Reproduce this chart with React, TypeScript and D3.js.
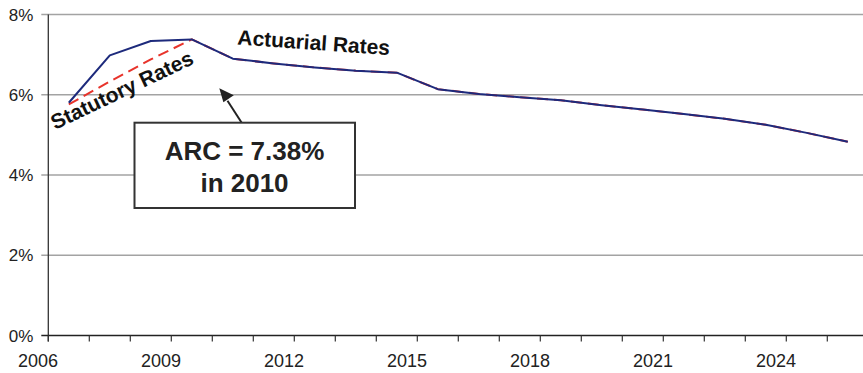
import React from "react";
import * as d3 from "d3";

// ---- data ----
const periods = [2006.75, 2007.75, 2008.75, 2009.75, 2010.75, 2011.75, 2012.75, 2013.75, 2014.75, 2015.75, 2016.75, 2017.75, 2018.75, 2019.75, 2020.75, 2021.75, 2022.75, 2023.75, 2024.75, 2025.75];
const actuarial = [5.80, 6.98, 7.34, 7.38, 6.90, 6.78, 6.68, 6.60, 6.55, 6.14, 6.02, 5.94, 5.86, 5.74, 5.63, 5.52, 5.40, 5.25, 5.05, 4.83];
const statutory = [5.76, 6.33, 6.88, 7.38, 6.90, 6.78, 6.68, 6.60, 6.55, 6.14, 6.02, 5.94, 5.86, 5.74, 5.63, 5.52, 5.40, 5.25, 5.05, 4.83];
const yTicks = [0, 2, 4, 6, 8];
const xLabels = [2006, 2009, 2012, 2015, 2018, 2021, 2024];
const xTickMarks = [2006.25, 2007.25, 2008.25, 2009.25, 2010.25, 2011.25, 2012.25, 2013.25, 2014.25, 2015.25, 2016.25, 2017.25, 2018.25, 2019.25, 2020.25, 2021.25, 2022.25, 2023.25, 2024.25, 2025.25];

const W = 863;
const H = 373;
const FONT = "'Liberation Sans', Arial, Helvetica, sans-serif";

export default function App() {
  const x = d3.scaleLinear().domain([2006.25, 2026.25]).range([48.3, 868.3]);
  const y = d3.scaleLinear().domain([0, 8]).range([335.5, 14.5]);

  const line = d3
    .line<number>()
    .x((_, i) => x(periods[i]))
    .y((d) => y(d));

  const x0 = x.range()[0];

  return (
    <svg
      width={W}
      height={H}
      style={{ position: "absolute", left: 0, top: 0, background: "#fff" }}
      fontFamily={FONT}
    >
      <rect x={0} y={0} width={W} height={H} fill="#fff" />
      {/* gridlines */}
      {yTicks.filter((t) => t > 0).map((t) => (
        <line key={"g" + t} x1={x0 - 7} x2={W} y1={y(t)} y2={y(t)} stroke="#a3a3a3" strokeWidth={1.5} />
      ))}
      {/* y axis */}
      <line x1={x0} x2={x0} y1={y(8)} y2={y(0) + 6} stroke="#333" strokeWidth={1.3} />
      {/* x axis */}
      <line x1={x0 - 7} x2={W} y1={y(0)} y2={y(0)} stroke="#222" strokeWidth={1.5} />
      {xTickMarks.map((t) => (
        <line key={"t" + t} x1={x(t)} x2={x(t)} y1={y(0)} y2={y(0) + 6} stroke="#333" strokeWidth={1.2} />
      ))}
      {/* y labels */}
      {yTicks.map((t) => (
        <text key={"yl" + t} x={x0 - 15} y={y(t) + 6} textAnchor="end" fontSize={17} fill="#222">
          {t + "%"}
        </text>
      ))}
      {/* x labels */}
      {xLabels.map((yr) => (
        <text
          key={"xl" + yr}
          x={Math.max(x(yr), 28.5)}
          y={366.5}
          textAnchor="middle"
          fontSize={18}
          fill="#222"
        >
          {yr}
        </text>
      ))}
      {/* series */}
      <path d={line(statutory) || ""} fill="none" stroke="#e8332b" strokeWidth={2} strokeDasharray="11,6" />
      <path d={line(actuarial) || ""} fill="none" stroke="#1d2a7c" strokeWidth={2} strokeLinejoin="round" />

      {/* labels on lines */}
      <text x={237} y={44.5} fontSize={21} fontWeight="bold" fill="#111" transform="rotate(4 237 44.5)">
        Actuarial Rates
      </text>
      <text x={55} y={130} fontSize={21} fontWeight="bold" fill="#111" transform="rotate(-25.5 55 130)">
        Statutory Rates
      </text>

      {/* annotation */}
      <line x1={241.7} y1={122.7} x2={227.5} y2={100.8} stroke="#222" strokeWidth={2} />
      <path d="M219.3,88.3 L233.8,95.3 L223.4,102.2 Z" fill="#222" />
      <rect x={134.5} y={122.7} width={220.5} height={85.3} fill="#fff" stroke="#333" strokeWidth={2} />
      <text x={244.5} y={160} textAnchor="middle" fontSize={26} fontWeight="bold" fill="#222">
        ARC = 7.38%
      </text>
      <text x={244.5} y={191.7} textAnchor="middle" fontSize={26} fontWeight="bold" fill="#222">
        in 2010
      </text>
    </svg>
  );
}
